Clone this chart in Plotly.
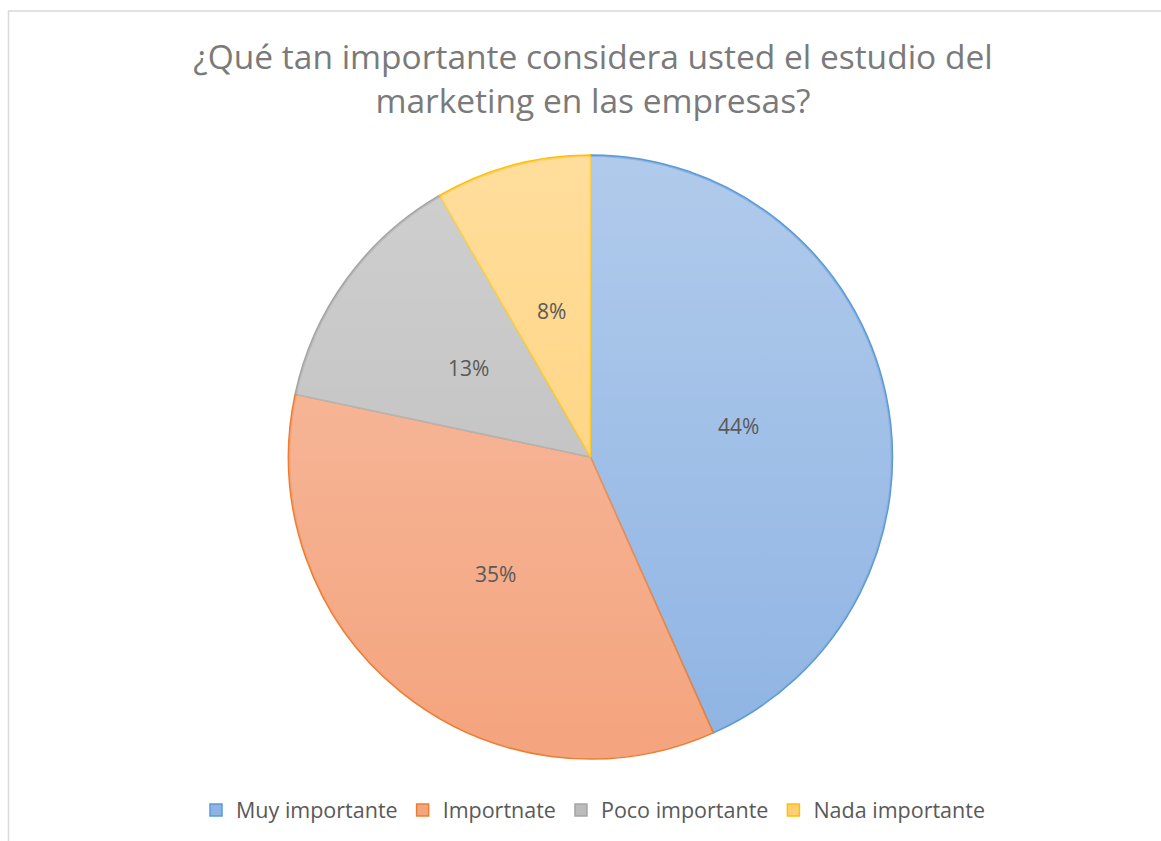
import math
import base64
import plotly.graph_objects as go

categories = ["Muy importante", "Importnate", "Poco importante", "Nada importante"]
values = [26, 21, 8, 5]
pct_labels = ["44%", "35%", "13%", "8%"]
fill_colors = ["#8FB4E3", "#F4A47E", "#BBBBBB", "#FFCF72"]
line_colors = ["#5B9BD5", "#ED7D31", "#A5A5A5", "#FFC000"]

title_text = "¿Qué tan importante considera usted el estudio del<br>marketing en las empresas?"

FONT = "Open Sans, Lato, sans-serif"
W, H = 1161, 841
cx, cy, R = 590.5, 457.0, 302.0
dom_x = [(cx - R) / W, (cx + R) / W]
dom_y = [1 - (cy + R) / H, 1 - (cy - R) / H]

fig = go.Figure(go.Pie(
    labels=categories,
    values=values,
    textinfo="none",
    sort=False,
    direction="clockwise",
    rotation=0,
    marker=dict(colors=fill_colors, line=dict(color=line_colors, width=1.5)),
    domain=dict(x=dom_x, y=dom_y),
    hovertext=pct_labels,
    hoverinfo="label+text",
))

# data labels at half radius along each slice's mid-angle
total = sum(values)
annotations = []
cum = 0.0
for v, t in zip(values, pct_labels):
    mid = (cum + v / 2) / total * 2 * math.pi
    cum += v
    px = cx + 0.5 * R * math.sin(mid)
    py = cy - 0.5 * R * math.cos(mid)
    annotations.append(dict(
        x=px / W, y=1 - py / H, xref="paper", yref="paper",
        text=t, showarrow=False, xanchor="center", yanchor="middle",
        font=dict(family=FONT, size=21, color="#595959"),
    ))

# soft vertical light gradient over the pie (Excel-style shading)
svg = (
    '<svg xmlns="http://www.w3.org/2000/svg" width="600" height="600" viewBox="0 0 600 600">'
    '<defs><linearGradient id="g" x1="0" y1="0" x2="0" y2="1">'
    '<stop offset="0" stop-color="#ffffff" stop-opacity="0.30"/>'
    '<stop offset="1" stop-color="#ffffff" stop-opacity="0"/>'
    '</linearGradient></defs>'
    '<circle cx="300" cy="300" r="298" fill="url(#g)"/></svg>'
)
svg_uri = "data:image/svg+xml;base64," + base64.b64encode(svg.encode()).decode()

fig.update_layout(
    width=W, height=H,
    margin=dict(l=0, r=0, t=0, b=0),
    paper_bgcolor="white",
    plot_bgcolor="white",
    title=dict(
        text=title_text,
        x=593 / W, xanchor="center",
        y=1 - 69 / H, yanchor="middle",
        font=dict(family=FONT, size=33.5, color="#7A7A7A"),
    ),
    legend=dict(
        orientation="h",
        x=593 / W, xanchor="center",
        y=1 - 810 / H, yanchor="middle",
        font=dict(family=FONT, size=21.5, color="#595959"),
        itemwidth=30,
        traceorder="normal",
    ),
    annotations=annotations,
    images=[dict(
        source=svg_uri, xref="paper", yref="paper",
        x=dom_x[0], y=dom_y[1], sizex=dom_x[1] - dom_x[0], sizey=dom_y[1] - dom_y[0],
        xanchor="left", yanchor="top", sizing="stretch", layer="above",
    )],
    shapes=[
        dict(type="rect", xref="paper", yref="paper",
             x0=8.5 / W, x1=1.02, y0=-0.02, y1=1 - 11 / H,
             line=dict(color="#D9D9D9", width=1.5), fillcolor="rgba(0,0,0,0)"),
    ],
)

fig.write_html("out.html")
